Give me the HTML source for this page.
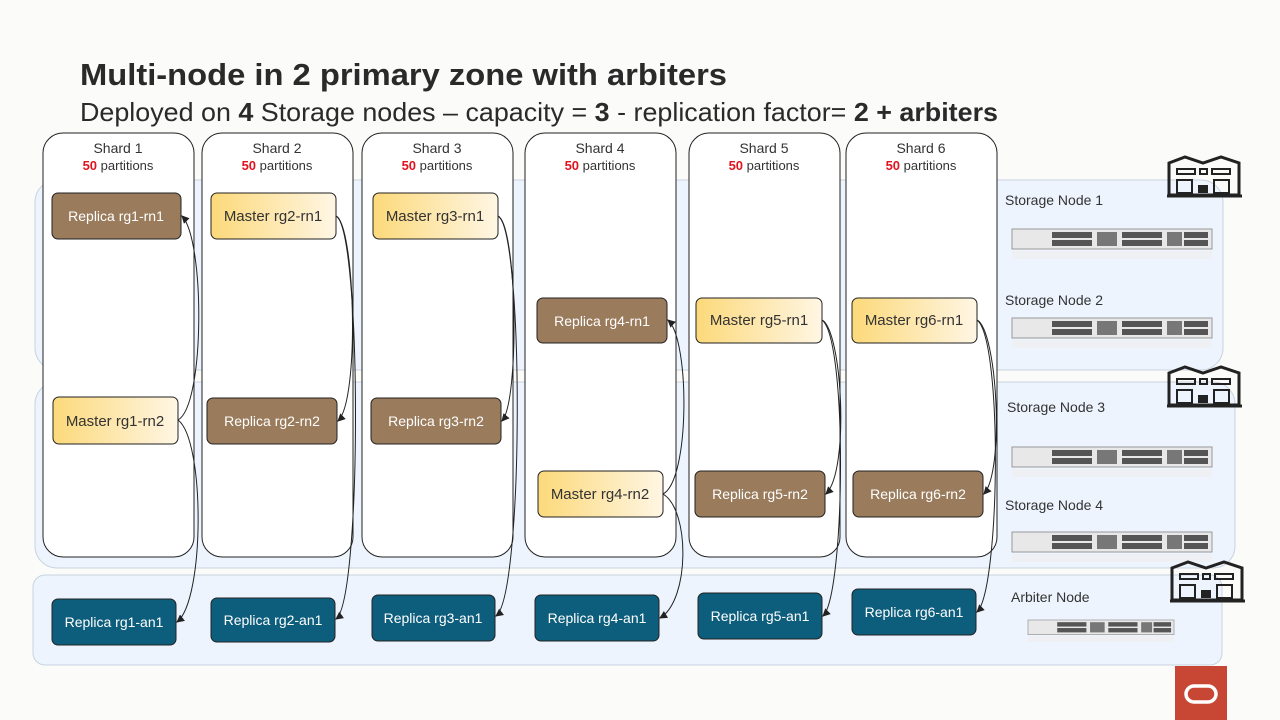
<!DOCTYPE html>
<html><head><meta charset="utf-8"><style>
html,body{margin:0;padding:0;background:#fbfbfa;}
svg{display:block;font-family:"Liberation Sans","DejaVu Sans",sans-serif;}
</style></head><body>
<svg width="1280" height="720" viewBox="0 0 1280 720" xmlns="http://www.w3.org/2000/svg">
<defs>
<linearGradient id="mg" x1="0" x2="1" y1="0" y2="0"><stop offset="0" stop-color="#fcd97a"/><stop offset="1" stop-color="#fff6e4"/></linearGradient>
<marker id="ar" markerWidth="8" markerHeight="8" refX="7" refY="4" orient="auto" markerUnits="userSpaceOnUse"><path d="M0,0 L8,4 L0,8 z" fill="#222"/></marker>
<g id="srv"><rect x="0" y="0" width="200" height="20" fill="#e8e8e8" stroke="#999" stroke-width="1"/>
<rect x="40" y="3" width="40" height="6" fill="#555"/><rect x="40" y="11" width="40" height="6" fill="#555"/>
<rect x="85" y="3" width="20" height="14" fill="#777"/><rect x="110" y="3" width="40" height="6" fill="#555"/><rect x="110" y="11" width="40" height="6" fill="#555"/>
<rect x="155" y="3" width="15" height="14" fill="#777"/><rect x="172" y="3" width="24" height="6" fill="#555"/><rect x="172" y="11" width="24" height="6" fill="#555"/>
<rect x="0" y="22" width="200" height="8" fill="#eee" opacity="0.7"/></g>
<g id="bld"><path d="M2,8 L18,2 L36,8 L54,2 L72,8 L72,40 L2,40 Z" fill="none" stroke="#222" stroke-width="3"/>
<rect x="10" y="14" width="18" height="5" fill="none" stroke="#222" stroke-width="2"/><rect x="33" y="14" width="7" height="5" fill="none" stroke="#222" stroke-width="2"/><rect x="45" y="14" width="18" height="5" fill="none" stroke="#222" stroke-width="2"/>
<rect x="10" y="25" width="15" height="13" fill="none" stroke="#222" stroke-width="2"/><rect x="31" y="30" width="10" height="8" fill="#222"/><rect x="47" y="25" width="15" height="13" fill="none" stroke="#222" stroke-width="2"/>
<line x1="0" y1="41" x2="75" y2="41" stroke="#222" stroke-width="3"/></g>
</defs>
<text x="80" y="85" font-size="31" font-weight="bold" fill="#2a2a2a" textLength="647" lengthAdjust="spacingAndGlyphs">Multi-node in 2 primary zone with arbiters</text>
<text x="80" y="121" font-size="26" fill="#2a2a2a" textLength="918" lengthAdjust="spacingAndGlyphs">Deployed on <tspan font-weight="bold">4</tspan> Storage nodes – capacity = <tspan font-weight="bold">3</tspan> - replication factor= <tspan font-weight="bold">2 + arbiters</tspan></text>

<rect x="35" y="180" width="1188" height="190" rx="22" fill="#edf4fd" stroke="#c9d3df"/>
<rect x="35" y="382" width="1200" height="186" rx="22" fill="#edf4fd" stroke="#c9d3df"/>
<rect x="33" y="575" width="1189" height="90" rx="12" fill="#edf4fd" stroke="#c9d3df"/>

<g fill="#fff" stroke="#222" stroke-width="1">
<rect x="43" y="133" width="151" height="424" rx="20"/>
<rect x="202" y="133" width="151" height="424" rx="20"/>
<rect x="362" y="133" width="151" height="424" rx="20"/>
<rect x="525" y="133" width="151" height="424" rx="20"/>
<rect x="689" y="133" width="151" height="424" rx="20"/>
<rect x="846" y="133" width="151" height="424" rx="20"/>
</g>
<g font-size="14" fill="#333" text-anchor="middle">
<text x="118" y="153">Shard 1</text><text x="277" y="153">Shard 2</text><text x="437" y="153">Shard 3</text>
<text x="600" y="153">Shard 4</text><text x="764" y="153">Shard 5</text><text x="921" y="153">Shard 6</text>
</g>
<g font-size="13" fill="#333" text-anchor="middle">
<text x="118" y="170"><tspan fill="#e0141e" font-weight="bold">50</tspan> partitions</text>
<text x="277" y="170"><tspan fill="#e0141e" font-weight="bold">50</tspan> partitions</text>
<text x="437" y="170"><tspan fill="#e0141e" font-weight="bold">50</tspan> partitions</text>
<text x="600" y="170"><tspan fill="#e0141e" font-weight="bold">50</tspan> partitions</text>
<text x="764" y="170"><tspan fill="#e0141e" font-weight="bold">50</tspan> partitions</text>
<text x="921" y="170"><tspan fill="#e0141e" font-weight="bold">50</tspan> partitions</text>
</g>

<g fill="#9a7b5c" stroke="#222" stroke-width="1">
<rect x="52" y="193" width="129" height="46" rx="6"/>
<rect x="537" y="298" width="130" height="45" rx="6"/>
<rect x="207" y="398" width="130" height="46" rx="6"/>
<rect x="371" y="398" width="130" height="46" rx="6"/>
<rect x="695" y="471" width="130" height="46" rx="6"/>
<rect x="853" y="471" width="130" height="46" rx="6"/>
</g>
<g fill="url(#mg)" stroke="#222" stroke-width="1">
<rect x="211" y="193" width="125" height="46" rx="6"/>
<rect x="373" y="193" width="125" height="46" rx="6"/>
<rect x="696" y="298" width="126" height="45" rx="6"/>
<rect x="852" y="298" width="125" height="45" rx="6"/>
<rect x="53" y="397" width="125" height="47" rx="6"/>
<rect x="538" y="471" width="125" height="46" rx="6"/>
</g>
<g fill="#0d5d7c" stroke="#222" stroke-width="1">
<rect x="52" y="599" width="124" height="46" rx="6"/>
<rect x="211" y="598" width="124" height="44" rx="6"/>
<rect x="372" y="595" width="123" height="46" rx="6"/>
<rect x="535" y="595" width="124" height="46" rx="6"/>
<rect x="698" y="593" width="124" height="46" rx="6"/>
<rect x="852" y="589" width="124" height="46" rx="6"/>
</g>
<g font-size="14" fill="#fff" text-anchor="middle">
<text x="116" y="221">Replica rg1-rn1</text>
<text x="602" y="326">Replica rg4-rn1</text>
<text x="272" y="426">Replica rg2-rn2</text>
<text x="436" y="426">Replica rg3-rn2</text>
<text x="760" y="499">Replica rg5-rn2</text>
<text x="918" y="499">Replica rg6-rn2</text>
<text x="114" y="627">Replica rg1-an1</text>
<text x="273" y="625">Replica rg2-an1</text>
<text x="433" y="623">Replica rg3-an1</text>
<text x="597" y="623">Replica rg4-an1</text>
<text x="760" y="621">Replica rg5-an1</text>
<text x="914" y="617">Replica rg6-an1</text>
</g>
<g font-size="15" fill="#333" text-anchor="middle">
<text x="273" y="221">Master  rg2-rn1</text>
<text x="435" y="221">Master  rg3-rn1</text>
<text x="759" y="325">Master  rg5-rn1</text>
<text x="914" y="325">Master  rg6-rn1</text>
<text x="115" y="426">Master  rg1-rn2</text>
<text x="600" y="499">Master  rg4-rn2</text>
</g>

<g fill="none" stroke="#222" stroke-width="1" marker-end="url(#ar)">
<path d="M178,420 C205,405 205,240 182,216"/>
<path d="M178,420 C205,440 205,600 177,622"/>
<path d="M336,216 C355,225 360,400 338,421"/>
<path d="M336,216 C362,230 362,600 336,619"/>
<path d="M498,216 C517,225 520,400 502,421"/>
<path d="M498,216 C524,230 524,595 496,616"/>
<path d="M663,494 C690,480 690,340 668,320"/>
<path d="M663,494 C690,510 690,600 660,618"/>
<path d="M822,320 C842,330 850,470 826,494"/>
<path d="M822,320 C848,340 845,595 823,616"/>
<path d="M977,320 C997,330 1005,470 984,494"/>
<path d="M977,320 C1003,340 1000,590 977,612"/>
</g>

<g font-size="14" fill="#333">
<text x="1005" y="205">Storage Node 1</text>
<text x="1005" y="305">Storage Node 2</text>
<text x="1007" y="412">Storage Node 3</text>
<text x="1005" y="510">Storage Node 4</text>
<text x="1011" y="602">Arbiter Node</text>
</g>
<use href="#srv" x="1012" y="229"/>
<use href="#srv" x="1012" y="318"/>
<use href="#srv" x="1012" y="447"/>
<use href="#srv" x="1012" y="532"/>
<g transform="translate(1028,620) scale(0.73)"><use href="#srv"/></g>
<use href="#bld" x="1167" y="155"/>
<use href="#bld" x="1167" y="365"/>
<use href="#bld" x="1170" y="560"/>

<rect x="1175" y="666" width="52" height="54" fill="#c74634"/>
<rect x="1186" y="686" width="30" height="16" rx="8" fill="none" stroke="#fff" stroke-width="3.5"/>
</svg>
</body></html>
